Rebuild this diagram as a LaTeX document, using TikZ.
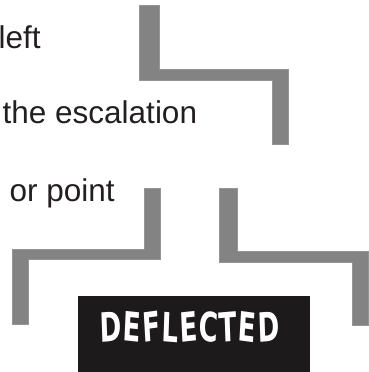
\documentclass[tikz,border=0pt]{standalone}
\usepackage{fontspec}
\setmainfont{Liberation Sans}
\newfontfamily\deffont{DejaVu Sans}
\definecolor{bargray}{HTML}{838383}
\definecolor{baredge}{HTML}{959595}
\definecolor{boxblack}{HTML}{1C1A1A}
\definecolor{txt}{HTML}{231F20}
\newcommand{\rl}[2]{\rotatebox[origin=c]{#1}{#2}}
\begin{document}
\begin{tikzpicture}[x=1pt,y=-1pt,
  lbl/.style={anchor=base west,inner sep=0pt,text=txt,font=\fontsize{31.5}{38}\selectfont},
  bar/.style={fill=bargray,draw=baredge,line width=1.2pt,line join=miter}]
\useasboundingbox (0,0) rectangle (368,372);
% labels
\node[lbl] (tleft) at (-1.5,48) {left};
\node[lbl] (tesc) at (2.5,123.3) {the escalation};
\node[lbl] (tpoint) at (9.5,201) {or point};
% connectors (bars)
\filldraw[bar] (139.6,5.6) -- (159.6,5.6) -- (159.6,69.6) -- (288.6,69.6) -- (288.6,144.6) -- (272.4,144.6) -- (272.4,80.4) -- (139.6,80.4) -- cycle;
\filldraw[bar] (144.4,188.6) -- (160.6,188.6) -- (160.6,259.6) -- (28.6,259.6) -- (28.6,324.6) -- (12.4,324.6) -- (12.4,249.4) -- (144.4,249.4) -- cycle;
\filldraw[bar] (219.4,188.6) -- (237.6,188.6) -- (237.6,251.4) -- (368.6,251.4) -- (368.6,325.6) -- (352.4,325.6) -- (352.4,262.6) -- (219.4,262.6) -- cycle;
% box
\fill[boxblack] (78,296) rectangle (310,373);
\node[inner sep=0pt,text=white] (defl) at (190,327) {\resizebox{180pt}{31pt}{\deffont\bfseries\rl{3}{D}\rl{-4}{E}\rl{5}{F}\rl{-3}{L}\rl{4}{E}\rl{-4}{C}\rl{3}{T}\rl{-5}{E}\rl{3}{D}}};
\end{tikzpicture}
\end{document}
